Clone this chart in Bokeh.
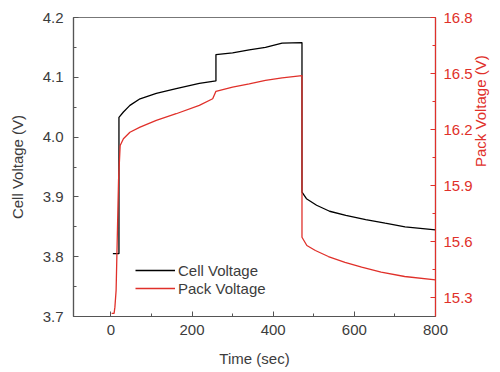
import math
from bokeh.plotting import figure
from bokeh.models import Range1d, LinearAxis, FixedTicker, NumeralTickFormatter, Legend, LegendItem
from bokeh.embed import file_html
from bokeh.resources import INLINE

# ---- data ----
t_cell = [5, 20, 20, 31, 47, 72, 112, 161, 218, 259, 259, 300, 341, 381, 422, 471,
          471, 482, 507, 539, 579, 628, 676, 725, 800]
v_cell = [3.805, 3.805, 4.033, 4.042, 4.053, 4.064, 4.073, 4.081, 4.090, 4.094, 4.138,
          4.141, 4.146, 4.150, 4.157, 4.158,
          3.908, 3.897, 3.886, 3.876, 3.869, 3.862, 3.856, 3.850, 3.845]

t_pack = [2, 8, 10, 13, 19, 23, 31, 47, 72, 112, 161, 218, 251, 259, 300, 341, 381, 422, 471,
          471, 483, 504, 536, 577, 618, 666, 724, 800]
v_pack = [15.217, 15.217, 15.25, 15.34, 15.93, 16.115, 16.151, 16.186, 16.213, 16.249,
          16.285, 16.33, 16.365, 16.405, 16.427, 16.445, 16.463, 16.477, 16.489,
          15.624, 15.58, 15.553, 15.521, 15.49, 15.464, 15.437, 15.414, 15.396]

x_ticks = [0, 200, 400, 600, 800]
x_minor = [100, 300, 500, 700]
cell_ticks = [3.7, 3.8, 3.9, 4.0, 4.1, 4.2]
cell_minor = [3.75, 3.85, 3.95, 4.05, 4.15]
pack_ticks = [15.3, 15.6, 15.9, 16.2, 16.5, 16.8]
pack_minor = [15.45, 15.75, 16.05, 16.35, 16.65]

RED = "#e0302a"
TXT = "#3c3c3c"
AX = "#555555"
FONT = "Liberation Sans"

p = figure(width=500, height=372, x_range=Range1d(-92, 800), y_range=Range1d(3.7, 4.2),
           output_backend="svg", toolbar_location=None,
           min_border_left=73, min_border_right=63, min_border_top=17, min_border_bottom=56,
           background_fill_color="white", border_fill_color="white")
p.xgrid.visible = False
p.ygrid.visible = False
p.outline_line_color = "#777777"
p.outline_line_width = 1.2

p.extra_y_ranges = {"pack": Range1d(15.2, 16.8)}

def style(ax, color, tcolor):
    ax.axis_line_color = color
    ax.axis_line_width = 1.2
    ax.major_tick_line_color = color
    ax.minor_tick_line_color = color
    ax.major_tick_in = 5
    ax.major_tick_out = 0
    ax.minor_tick_in = 3
    ax.minor_tick_out = 0
    ax.major_label_text_font = FONT
    ax.major_label_text_font_size = "15px"
    ax.major_label_text_color = tcolor
    ax.axis_label_text_font = FONT
    ax.axis_label_text_font_size = "15px"
    ax.axis_label_text_font_style = "normal"
    ax.axis_label_text_color = tcolor

xa = p.xaxis[0]
style(xa, AX, TXT)
xa.ticker = FixedTicker(ticks=x_ticks, minor_ticks=x_minor)
xa.axis_label = "Time (sec)"
xa.major_label_standoff = 8
xa.axis_label_standoff = 12

ya = p.yaxis[0]
style(ya, AX, TXT)
ya.ticker = FixedTicker(ticks=cell_ticks, minor_ticks=cell_minor)
ya.formatter = NumeralTickFormatter(format="0.0")
ya.axis_label = "Cell Voltage (V)"
ya.major_label_standoff = 10
ya.axis_label_standoff = 14

ra = LinearAxis(y_range_name="pack")
style(ra, RED, RED)
ra.ticker = FixedTicker(ticks=pack_ticks, minor_ticks=pack_minor)
ra.formatter = NumeralTickFormatter(format="0.0")
ra.axis_label = "Pack Voltage (V)"
ra.axis_label_orientation = math.pi / 2
ra.major_label_standoff = 8
ra.axis_label_standoff = 5
p.add_layout(ra, "right")

r_cell = p.line(t_cell, v_cell, line_color="black", line_width=1.3)
r_pack = p.line(t_pack, v_pack, line_color=RED, line_width=1.3, y_range_name="pack")

legend = Legend(items=[LegendItem(label="Cell Voltage", renderers=[r_cell]),
                       LegendItem(label="Pack Voltage", renderers=[r_pack])],
                location=(62, 19), padding=0, margin=0, spacing=0,
                glyph_width=40, glyph_height=18, label_height=18, label_standoff=3,
                label_text_font=FONT, label_text_font_size="15px", label_text_color=TXT,
                border_line_color=None, background_fill_alpha=0)
p.add_layout(legend, "center")

open("out.html", "w").write(file_html(p, INLINE))
